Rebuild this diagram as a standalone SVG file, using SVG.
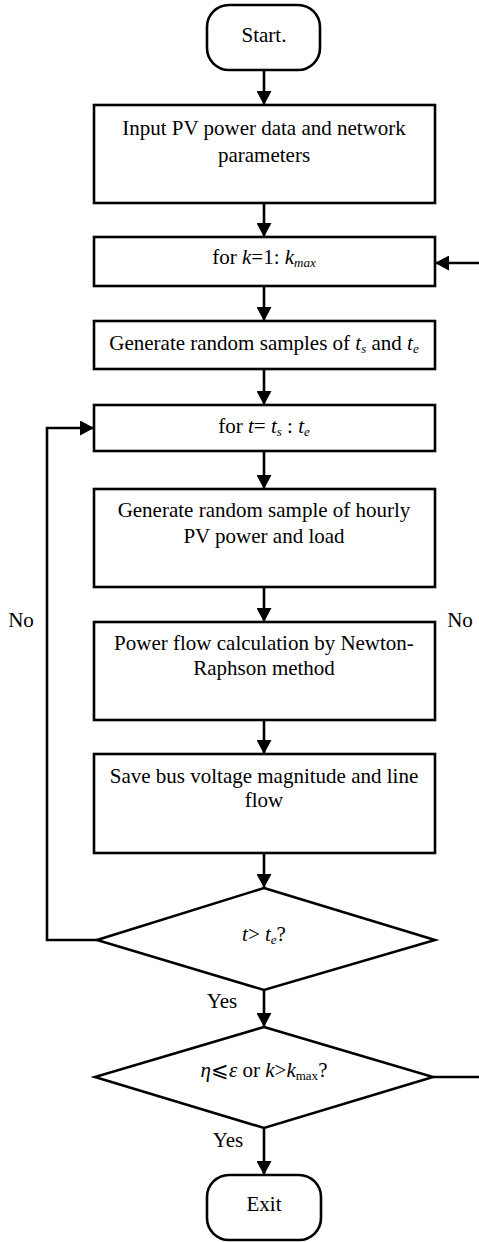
<svg xmlns="http://www.w3.org/2000/svg" width="479" height="1242" viewBox="0 0 479 1242">
<style>
.s{fill:#fff;stroke:#000;stroke-width:2.6}
.c{fill:none;stroke:#000;stroke-width:2.6}
text{font-family:'Liberation Serif','Times New Roman','DejaVu Serif',serif;font-size:21px;fill:#000;text-anchor:middle}
.i{font-style:italic}
.sub{font-size:13px;font-style:italic}
</style>
<defs>
<marker id="a" viewBox="0 0 14 15" refX="14" refY="7.5" markerWidth="14" markerHeight="15" markerUnits="userSpaceOnUse" orient="auto">
<path d="M0,0 L14,7.5 L0,15 Z" fill="#000"/>
</marker>
</defs>
<rect width="479" height="1242" fill="#fff"/>
<g id="connectors">
<line class="c" x1="264" y1="70" x2="264" y2="105" marker-end="url(#a)"/>
<line class="c" x1="264" y1="203" x2="264" y2="237" marker-end="url(#a)"/>
<line class="c" x1="479" y1="263" x2="435" y2="263" marker-end="url(#a)"/>
<line class="c" x1="264" y1="286" x2="264" y2="321" marker-end="url(#a)"/>
<line class="c" x1="264" y1="369" x2="264" y2="405" marker-end="url(#a)"/>
<line class="c" x1="264" y1="451" x2="264" y2="489" marker-end="url(#a)"/>
<line class="c" x1="264" y1="587" x2="264" y2="622" marker-end="url(#a)"/>
<line class="c" x1="264" y1="720" x2="264" y2="754" marker-end="url(#a)"/>
<line class="c" x1="264" y1="853" x2="264" y2="888" marker-end="url(#a)"/>
<polyline class="c" points="97,940 47,940 47,428 94,428" marker-end="url(#a)"/>
<line class="c" x1="264" y1="990" x2="264" y2="1027" marker-end="url(#a)"/>
<line class="c" x1="433" y1="1077" x2="479" y2="1077"/>
<line class="c" x1="264" y1="1128" x2="264" y2="1175" marker-end="url(#a)"/>
<text x="21" y="627">No</text>
<text x="460" y="627">No</text>
<text x="222" y="1008">Yes</text>
<text x="228" y="1147">Yes</text>
</g>
<g id="start">
<rect class="s" x="207" y="5" width="113" height="65" rx="22" ry="22"/>
<text x="264" y="42">Start.</text>
</g>
<g id="input">
<rect class="s" x="94" y="105" width="341" height="98"/>
<text x="264" y="135">Input PV power data and network</text>
<text x="264" y="162">parameters</text>
</g>
<g id="fork">
<rect class="s" x="94" y="237" width="341" height="49"/>
<text x="264" y="264">for <tspan class="i">k</tspan>=1: <tspan class="i">k</tspan><tspan class="sub" dy="3">max</tspan></text>
</g>
<g id="gensamples">
<rect class="s" x="94" y="321" width="341" height="48"/>
<text x="264" y="350">Generate random samples of <tspan class="i">t</tspan><tspan class="sub" dy="3">s</tspan><tspan dy="-3"> and </tspan><tspan class="i">t</tspan><tspan class="sub" dy="3">e</tspan></text>
</g>
<g id="fort">
<rect class="s" x="94" y="405" width="341" height="46"/>
<text x="264" y="433">for <tspan class="i">t</tspan>= <tspan class="i">t</tspan><tspan class="sub" dy="3">s</tspan><tspan dy="-3"> : </tspan><tspan class="i">t</tspan><tspan class="sub" dy="3">e</tspan></text>
</g>
<g id="gensample">
<rect class="s" x="94" y="489" width="341" height="98"/>
<text x="264" y="517">Generate random sample of hourly</text>
<text x="264" y="543">PV power and load</text>
</g>
<g id="powerflow">
<rect class="s" x="94" y="622" width="341" height="98"/>
<text x="264" y="650">Power flow calculation by Newton-</text>
<text x="264" y="675">Raphson method</text>
</g>
<g id="save">
<rect class="s" x="94" y="754" width="341" height="99"/>
<text x="264" y="783">Save bus voltage magnitude and line</text>
<text x="264" y="807">flow</text>
</g>
<g id="decision1">
<polygon class="s" points="264,888 435,940 264,990 97,940"/>
<text x="264" y="941"><tspan class="i">t</tspan>&gt; <tspan class="i">t</tspan><tspan class="sub" dy="3">e</tspan><tspan dy="-3">?</tspan></text>
</g>
<g id="decision2">
<polygon class="s" points="264,1027 433,1077 264,1128 95,1077"/>
<text x="264" y="1077"><tspan class="i">η</tspan>⩽<tspan class="i">ε</tspan> or <tspan class="i">k</tspan>&gt;<tspan class="i">k</tspan><tspan font-size="13" dy="3">max</tspan><tspan dy="-3">?</tspan></text>
</g>
<g id="exit">
<rect class="s" x="207" y="1175" width="114" height="65" rx="22" ry="22"/>
<text x="264" y="1211">Exit</text>
</g>
</svg>
